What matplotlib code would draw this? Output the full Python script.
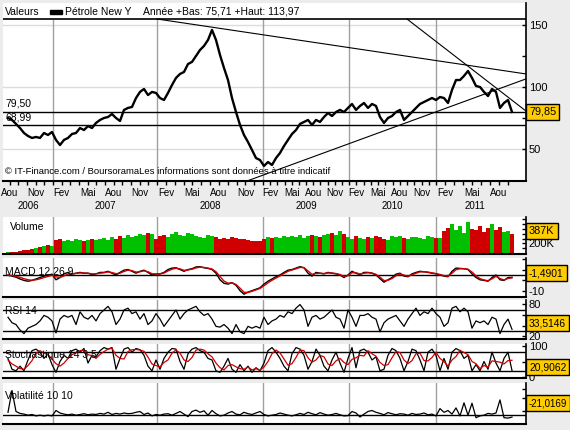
import matplotlib.pyplot as plt
import numpy as np
from matplotlib.patches import Rectangle

# one sample every ~4 px of the original chart, Aug 2006 -> Sep 2011
price = [75.0, 73.4, 70.2, 66.9, 62.9, 60.5, 58.9, 59.7, 58.9, 62.9,
         61.3, 63.7, 57.3, 53.2, 57.3, 58.9, 62.1, 62.9, 66.9, 65.3,
         68.5, 66.9, 71.0, 73.4, 75.0, 75.8, 78.2, 75.0, 72.6, 81.5,
         83.1, 83.9, 91.1, 96.0, 98.4, 93.5, 96.0, 95.2, 91.1, 89.5,
         95.2, 101.6, 107.3, 110.5, 112.1, 118.5, 120.2, 125.0, 129.8, 133.1,
         137.9, 146.0, 137.9, 125.8, 115.3, 105.6, 91.1, 79.8, 69.4, 61.3,
         55.6, 49.2, 42.7, 41.1, 36.3, 39.5, 37.1, 42.7, 46.8, 52.4,
         57.3, 62.1, 65.3, 70.2, 71.8, 73.4, 69.4, 73.4, 71.8, 75.8,
         79.0, 76.6, 79.8, 81.5, 79.8, 83.1, 86.3, 81.5, 84.7, 87.1,
         83.1, 86.3, 84.7, 75.8, 71.0, 75.0, 76.6, 79.8, 81.5, 73.4,
         76.6, 79.8, 83.1, 86.3, 87.9, 89.5, 91.1, 89.5, 91.9, 91.1,
         87.1, 97.6, 105.6, 105.6, 108.9, 112.9, 107.3, 100.8, 100.0, 96.0,
         92.7, 98.4, 96.0, 83.1, 87.1, 89.5, 79.85]

volume = [20, 25, 30, 45, 60, 70, 90, 110, 120, 140, 170, 150,
          280, 300, 260, 270, 250, 290, 270, 260, 280, 300, 270, 290, 310, 280,
          330, 300, 350, 320, 380, 340, 360,
          400, 370, 420, 390, 300, 360, 380, 330, 400, 430, 380, 350, 410, 390,
          360, 340, 320, 380, 350, 330, 300,
          320, 300, 340, 310, 290, 300, 280, 260, 240, 250,
          290, 330, 310, 340, 320, 350, 330, 360, 340, 370, 320, 350, 380, 360,
          340, 370, 390, 420, 380, 460, 400,
          330, 300, 360, 320, 290, 340, 310, 350, 330, 300, 280, 360, 330, 350,
          310, 290, 330, 340, 320, 300, 350, 330, 310,
          320, 450, 520, 600, 480, 560, 420, 650, 500, 470, 560, 440, 520, 600,
          480, 550, 430, 460, 387]

macd = [-0.2, -0.7, -1.4, -2.5, -3.4, -3.9, -3.4, -2.5, -1.6, -0.7, -0.2, 0.5,
        -3.0, -1.6, 0.7, 1.6, 0.5, 1.1, 1.6, 1.1, 1.1, 0.2, 0.7, 1.6,
        1.6, 2.3, 1.1, 0.0, 1.6, 3.0, 3.4, 2.3, 1.1, 2.3, 3.0, 1.6,
        0.0, 0.5, 0.7, 1.6, 3.4, 4.3, 4.5, 3.4, 2.3, 3.4, 3.9, 5.0,
        5.2, 4.5, 4.1, 3.4, 1.1, -3.0, -5.2, -5.7, -4.8, -6.4, -9.8, -12.0,
        -10.7, -9.8, -8.9, -8.0, -5.7, -3.9, -2.5, -1.1, 0.0, 1.6, 3.0, 3.4,
        4.3, 5.2, 4.5, 1.1, -0.7, 1.6, 1.1, 0.7, 1.6, 1.1, 0.7, 0.0,
        -1.6, 0.0, 2.3, 1.1, 0.2, 1.6, 1.6, 1.1, 0.0, -2.3, -4.5, -3.0,
        -1.6, 0.5, 1.1, -0.7, -1.1, 0.7, 1.6, 2.3, 2.0, 1.6, 1.1, 0.7,
        0.0, -0.7, -1.1, 2.3, 4.3, 4.1, 3.9, 3.4, 0.7, -1.6, -3.0, -3.4,
        -3.9, -1.6, 0.0, -3.0, -3.4, -1.6, -1.49]
macd_signal = [0.0, -0.3, -0.8, -1.5, -2.3, -3.0, -3.3, -3.0, -2.4, -1.6, -0.9, -0.2,
               -1.2, -1.5, -0.6, 0.6, 0.8, 1.0, 1.3, 1.2, 1.1, 0.7, 0.7, 1.1,
               1.4, 1.9, 1.5, 0.8, 1.1, 2.2, 3.0, 2.7, 1.8, 2.0, 2.6, 2.0,
               0.8, 0.6, 0.6, 1.2, 2.5, 3.6, 4.2, 3.8, 2.9, 3.1, 3.6, 4.4,
               4.9, 4.7, 4.3, 3.7, 2.0, -1.0, -3.8, -5.1, -5.0, -5.9, -8.2, -10.8,
               -10.9, -10.2, -9.3, -8.4, -6.7, -4.9, -3.3, -1.9, -0.6, 0.9, 2.3, 3.1,
               3.9, 4.7, 4.6, 2.5, 0.4, 0.9, 1.1, 0.9, 1.3, 1.2, 0.9, 0.3,
               -0.9, -0.4, 1.4, 1.4, 0.6, 1.1, 1.4, 1.2, 0.4, -1.4, -3.5, -3.3,
               -2.2, -0.5, 0.7, -0.1, -0.8, 0.1, 1.1, 1.9, 2.0, 1.8, 1.3, 0.9,
               0.3, -0.4, -0.8, 1.1, 3.3, 3.9, 3.9, 3.6, 1.8, -0.5, -2.3, -3.1,
               -3.6, -2.4, -0.9, -2.2, -3.1, -2.2, -1.8]

rsi = [56.1, 45.8, 42.4, 32.2, 25.4, 35.6, 39.0, 42.4, 49.2, 59.5,
       56.1, 49.2, 26.7, 52.6, 59.5, 56.1, 59.5, 42.4, 66.3, 56.1,
       52.6, 59.5, 49.2, 62.9, 69.7, 76.5, 66.3, 42.4, 52.6, 69.7,
       73.1, 62.9, 66.3, 52.6, 62.9, 42.4, 49.2, 62.9, 52.6, 39.0,
       49.2, 59.5, 69.7, 52.6, 62.9, 69.7, 73.1, 76.5, 66.3, 59.5,
       62.9, 52.6, 39.0, 37.6, 42.4, 35.6, 25.4, 42.4, 28.8, 25.4,
       39.0, 35.6, 39.0, 35.6, 56.1, 42.4, 49.2, 52.6, 59.5, 56.1,
       66.3, 62.9, 73.1, 79.9, 69.7, 39.0, 56.1, 59.5, 52.6, 56.1,
       62.9, 69.7, 56.1, 52.6, 35.6, 69.7, 56.1, 39.0, 59.5, 59.5,
       62.9, 56.1, 52.6, 28.8, 45.8, 52.6, 56.1, 59.5, 49.2, 39.0,
       52.6, 62.9, 73.1, 59.5, 66.3, 62.9, 73.1, 62.9, 56.1, 39.0,
       45.8, 73.1, 76.5, 66.3, 73.1, 66.3, 35.6, 49.2, 45.8, 49.2,
       42.4, 56.1, 52.6, 25.4, 42.4, 52.6, 33.5]

stoch_k = [60, 25, 20, 35, 20, 55, 85, 90, 80, 60,
           75, 40, 15, 50, 70, 60, 85, 90, 80, 92,
           45, 70, 65, 85, 95, 90, 95, 25, 60, 90,
           95, 80, 92, 88, 70, 35, 20, 55, 25, 60,
           80, 92, 90, 50, 25, 75, 90, 95, 85, 80,
           60, 55, 20, 15, 35, 60, 25, 15, 40, 20,
           35, 15, 30, 20, 45, 85, 95, 80, 60, 35,
           20, 75, 95, 90, 70, 25, 50, 90, 70, 35,
           20, 55, 80, 45, 15, 60, 95, 30, 85, 90,
           80, 55, 65, 20, 25, 70, 92, 85, 60, 20,
           50, 90, 85, 55, 20, 80, 90, 70, 20, 60,
           25, 80, 92, 85, 60, 70, 20, 40, 20, 50,
           25, 80, 45, 20, 60, 80, 20.9]
stoch_d = [55, 42, 35, 27, 25, 37, 53, 77, 85, 77,
           72, 58, 43, 35, 45, 60, 72, 78, 85, 87,
           72, 69, 60, 73, 82, 90, 93, 70, 60, 58,
           82, 88, 89, 87, 83, 64, 42, 37, 33, 47,
           55, 77, 87, 77, 55, 50, 63, 87, 90, 87,
           75, 65, 45, 30, 23, 37, 40, 33, 27, 25,
           32, 23, 27, 22, 32, 50, 75, 87, 78, 58,
           38, 43, 63, 87, 85, 62, 48, 55, 70, 65,
           42, 37, 52, 60, 47, 40, 57, 62, 70, 68,
           85, 75, 67, 47, 37, 40, 62, 82, 79, 55,
           43, 53, 75, 77, 53, 52, 63, 80, 60, 50,
           35, 55, 66, 86, 79, 72, 50, 43, 27, 37,
           32, 52, 50, 48, 42, 53, 54]

volatility = [27, 245, 35, 16, 9, -2, 5, -9, -2, -9,
              -2, -9, 45, 20, 9, 2, 9, -2, 5, 13,
              2, 9, 5, 16, 9, 27, 5, 16, 9, 20,
              13, 16, 27, 35, 5, 20, -9, 5, -2, 9,
              13, -2, 16, 35, 9, -16, 35, 49, 27, 42,
              -2, 45, 13, -9, -2, 20, 35, 9, 2, 27,
              13, 5, 20, 35, 5, -9, -2, 5, 20, 9,
              -2, -9, 2, 16, 5, 27, 13, 2, 24, 9,
              -2, 5, 16, 2, -9, -6, 35, 20, -20, 9,
              35, 45, 27, 16, 2, 24, 13, 2, 13, 9,
              -2, 16, 5, 9, 20, 2, 9, -9, 64, 27,
              45, 9, 71, -9, 122, -2, 118, -27, -9, -2,
              16, 9, 20, 151, -27, -31, -21.0]

# January boundaries (2007..2012) on the sample axis
year_edges = [11.25, 37.25, 63.75, 85.25, 107.0, 134.0]
years = ['2006', '2007', '2008', '2009', '2010', '2011']
mois = ['Jan', 'Fev', 'Mar', 'Avr', 'Mai', 'Jun', 'Jul', 'Aou', 'Sep', 'Oct', 'Nov', 'Dec']
shown = ['Fev', 'Mai', 'Aou', 'Nov']

levels = [79.50, 68.99]
level_labels = ['79,50', '68,99']
trend_lines = [((37.25, 154.8), (129.5, 110.5)),
               ((99.75, 154.8), (129.5, 80.6)),
               ((59.75, 24.2), (129.5, 106.5))]
last_values = ['79,85', '387K', '-1,4901', '33,5146', '20,9062', '-21,0169']

n = len(price)
for s in (volume, macd, macd_signal, rsi, stoch_k, stoch_d, volatility):
    assert len(s) == n
x = np.arange(n)

W, H = 570, 430
BG = '#ECECEC'
GRID = '#A0A0A0'
LIGHT = '#DCDCDC'
YELLOW = '#FFCC00'
plt.rcParams['font.family'] = ['Liberation Sans', 'DejaVu Sans']
FS = 7.5

fig = plt.figure(figsize=(W / 100, H / 100), dpi=100, facecolor=BG)


def panel(top, bottom, left=3, right=526, vgrid=True):
    ax = fig.add_axes([left / W, 1 - bottom / H, (right - left) / W, (bottom - top) / H])
    ax.set_facecolor('white')
    ax.spines['left'].set_visible(False)
    ax.spines['top'].set_visible(False)
    ax.spines['right'].set_linewidth(1.2)
    ax.spines['bottom'].set_linewidth(1.5)
    ax.yaxis.tick_right()
    ax.tick_params(axis='y', direction='in', length=3, width=1, labelsize=8, pad=2)
    ax.tick_params(axis='x', bottom=False, labelbottom=False)
    ax.set_xlim(-1.25, 129.5)
    if vgrid:
        for e in year_edges[:5]:
            ax.axvline(e, color=GRID, lw=1, zorder=0.5)
    return ax


def value_box(y_px, text, size=7.8):
    fig.text(529 / W, 1 - y_px / H, text, ha='left', va='center', fontsize=size,
             bbox=dict(boxstyle='square,pad=0.28', fc=YELLOW, ec='black', lw=1))


# ---- main price panel
ax = panel(3, 181, vgrid=False)
ax.set_ylim(24.2, 167.7)
for g in (50, 100, 150):
    ax.axhline(g, color=LIGHT, lw=1, zorder=0)
ax.vlines(year_edges[:5], 24.2, 154.8, color=GRID, lw=1, zorder=0.5)
ax.axhline(154.8, color='black', lw=1.2)
for lv in levels:
    ax.axhline(lv, color='black', lw=1)
for (x0, y0), (x1, y1) in trend_lines:
    ax.plot([x0, x1], [y0, y1], color='black', lw=0.8)
ax.plot(x, price, color='black', lw=1.7)
ax.set_yticks([50, 75, 100, 125, 150], ['50', '', '100', '', '150'])

ticks, labels = [], []
for i, yr in enumerate(years):
    if i == 0:
        step = (year_edges[1] - year_edges[0]) / 12
        start = year_edges[0] - 12 * step
    else:
        step = (year_edges[i] - year_edges[i - 1]) / 12
        start = year_edges[i - 1]
    for m in range(12):
        p = start + m * step
        if -1.25 <= p <= 126.5:
            ticks.append(p)
            labels.append(mois[m] if mois[m] in shown else '')
ax.set_xticks(ticks, labels)
ax.tick_params(axis='x', bottom=True, labelbottom=True, direction='out',
               length=3, width=1, labelsize=7, pad=2)

bounds = [-1.25] + year_edges[:5] + [n - 0.5]
for i, yr in enumerate(years):
    ax.text((bounds[i] + bounds[i + 1]) / 2, -0.14, yr, transform=ax.get_xaxis_transform(),
            ha='center', va='center', fontsize=7)

fig.text(5 / W, 1 - 12 / H, 'Valeurs', fontsize=FS, va='center')
fig.patches.append(Rectangle((50 / W, 1 - 14 / H), 12 / W, 4 / H, transform=fig.transFigure,
                             color='black'))
fig.text(65 / W, 1 - 12 / H, 'Pétrole New Y', fontsize=FS, va='center')
fig.text(143 / W, 1 - 12 / H, 'Année +Bas: 75,71 +Haut: 113,97', fontsize=FS, va='center')
for lab, yp in zip(level_labels, (104, 118)):
    fig.text(5 / W, 1 - yp / H, lab, fontsize=FS, va='center')
fig.text(5 / W, 1 - 172 / H,
         '© IT-Finance.com / BoursoramaLes informations sont données à titre indicatif',
         fontsize=6.8, va='center')
value_box(112, last_values[0])

# ---- volume
axv = panel(217, 254)
axv.set_ylim(-21, 750)
up = np.diff(price, prepend=price[0]) >= 0
axv.bar(x, volume, width=1.0, color=np.where(up, '#00C000', '#D00000'), linewidth=0)
axv.set_yticks([100, 200, 300, 400, 500, 600, 700], ['', '200K', '', '', '', '', ''])
fig.text(10 / W, 1 - 227 / H, 'Volume', fontsize=FS, va='center')
value_box(231, last_values[1])

# ---- MACD
axm = panel(258, 297)
axm.set_ylim(-13.75, 10.6)
axm.axhline(0, color='black', lw=1)
axm.plot(x, macd, color='black', lw=1)
axm.plot(x, macd_signal, color='#D00000', lw=1)
axm.set_yticks([-10, -10 / 3, 10 / 3, 10], ['-10', '', '', ''])
fig.text(5 / W, 1 - 272 / H, 'MACD 12 26 9', fontsize=FS, va='center')
value_box(273, last_values[2], 7.4)

# ---- RSI
axr = panel(300, 339)
axr.set_ylim(15.3, 88.4)
for g in (70, 30):
    axr.axhline(g, color='black', lw=1)
axr.plot(x, rsi, color='black', lw=0.9)
axr.set_yticks([20, 40, 60, 80], ['20', '', '', '80'])
fig.text(5 / W, 1 - 311 / H, 'RSI 14', fontsize=FS, va='center')
value_box(323, last_values[3], 7.4)

# ---- Stochastique
axs = panel(344, 378)
axs.set_ylim(-3.2, 106.5)
for g in (80, 20):
    axs.axhline(g, color='black', lw=1)
axs.plot(x, stoch_k, color='black', lw=0.9)
axs.plot(x, stoch_d, color='#D00000', lw=0.9)
axs.set_yticks([0, 50, 100], ['0', '', '100'])
fig.text(5 / W, 1 - 355 / H, 'Stochastique 14 3 5', fontsize=FS, va='center')
value_box(367, last_values[4], 7.4)

# ---- Volatilité
axo = panel(383, 424)
axo.set_ylim(-90, 320)
axo.axhline(0, color='black', lw=1)
axo.plot(x, volatility, color='black', lw=0.9)
axo.set_yticks([40, 170, 260], ['', '', ''])
fig.text(5 / W, 1 - 396 / H, 'Volatilité 10 10', fontsize=FS, va='center')
value_box(403, last_values[5], 7.0)

fig.savefig('out.png', dpi=100, facecolor=BG)
